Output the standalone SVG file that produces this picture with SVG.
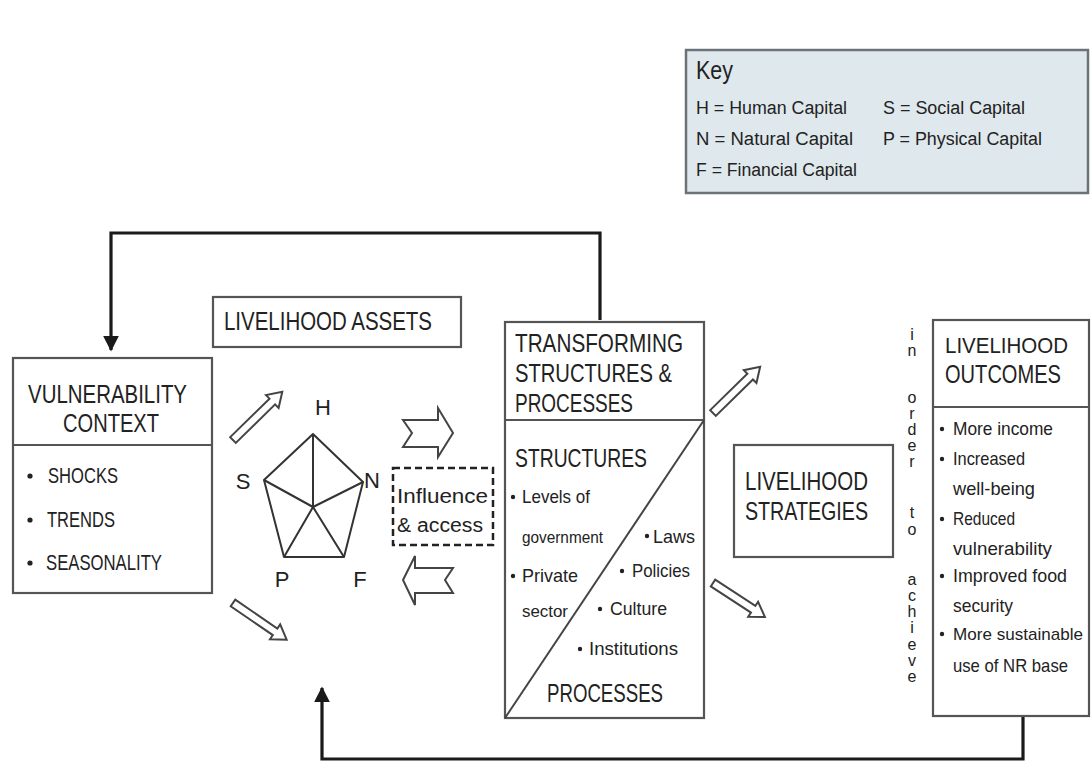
<svg xmlns="http://www.w3.org/2000/svg" width="1091" height="762" viewBox="0 0 1091 762">
<style>
text{font-family:"Liberation Sans","DejaVu Sans Condensed",Arial,sans-serif;fill:#222}
.box{fill:#fff;stroke:#555;stroke-width:2.2}
.t{font-size:25px}
.b{font-size:22px}
.s{font-size:18.5px}
.k{font-size:18px}
.hol{fill:#fff;stroke:#444;stroke-width:2}
.con{fill:none;stroke:#1a1a1a;stroke-width:3.2}
.dot{fill:#222}
.v{font-size:16px;text-anchor:middle}
</style>
<defs>
<marker id="ah" viewBox="0 0 10 10" refX="9" refY="5" markerWidth="5" markerHeight="5" orient="auto" markerUnits="strokeWidth">
<path d="M0,0 L10,5 L0,10 z" fill="#1a1a1a"/>
</marker>
</defs>
<rect width="1091" height="762" fill="#fff"/>

<g id="key">
<rect x="686" y="50" width="402" height="143" fill="#dfe8ec" stroke="#6b7377" stroke-width="2.5"/>
<text x="696" y="79" style="font-size:25px" textLength="37" lengthAdjust="spacingAndGlyphs">Key</text>
<text class="k" x="696" y="114" textLength="151" lengthAdjust="spacingAndGlyphs">H = Human Capital</text>
<text class="k" x="696" y="145" textLength="157" lengthAdjust="spacingAndGlyphs">N = Natural Capital</text>
<text class="k" x="696" y="176" textLength="161" lengthAdjust="spacingAndGlyphs">F = Financial Capital</text>
<text class="k" x="883" y="114" textLength="142" lengthAdjust="spacingAndGlyphs">S = Social Capital</text>
<text class="k" x="883" y="145" textLength="159" lengthAdjust="spacingAndGlyphs">P = Physical Capital</text>
</g>

<g id="connectors">
<path class="con" d="M600,320 V233 H111 V350" marker-end="url(#ah)"/>
<path class="con" d="M1023,716 V759 H322 V688" marker-end="url(#ah)"/>
</g>

<g id="vulnerability">
<rect class="box" x="13" y="358" width="199" height="235"/>
<line x1="13" y1="445" x2="212" y2="445" stroke="#555" stroke-width="2.2"/>
<text class="t" x="28" y="403" textLength="159" lengthAdjust="spacingAndGlyphs">VULNERABILITY</text>
<text class="t" x="63" y="432" textLength="96" lengthAdjust="spacingAndGlyphs">CONTEXT</text>
<circle class="dot" cx="30" cy="476" r="2.6"/>
<circle class="dot" cx="30" cy="520" r="2.6"/>
<circle class="dot" cx="30" cy="563" r="2.6"/>
<text class="b" x="48" y="483" textLength="70" lengthAdjust="spacingAndGlyphs">SHOCKS</text>
<text class="b" x="47" y="527" textLength="68" lengthAdjust="spacingAndGlyphs">TRENDS</text>
<text class="b" x="46" y="570" textLength="116" lengthAdjust="spacingAndGlyphs">SEASONALITY</text>
</g>

<g id="assets">
<rect class="box" x="213" y="297" width="248" height="50"/>
<text class="t" x="224" y="330" textLength="208" lengthAdjust="spacingAndGlyphs">LIVELIHOOD ASSETS</text>
<g stroke="#333" stroke-width="2" fill="none" stroke-linejoin="round">
<polygon points="313,434 363,482 344,557 284,557 264,480"/>
<path d="M313,507 L313,434 M313,507 L363,482 M313,507 L344,557 M313,507 L284,557 M313,507 L264,480"/>
</g>
<text class="b" x="323" y="415" text-anchor="middle">H</text>
<text class="b" x="243" y="489" text-anchor="middle">S</text>
<text class="b" x="372" y="488" text-anchor="middle">N</text>
<text class="b" x="282" y="587" text-anchor="middle">P</text>
<text class="b" x="360" y="587" text-anchor="middle">F</text>
</g>

<g id="influence">
<rect x="393" y="468" width="100" height="77" fill="none" stroke="#222" stroke-width="2.5" stroke-dasharray="7,4"/>
<text style="font-size:20px" x="397" y="503" textLength="91" lengthAdjust="spacingAndGlyphs">Influence</text>
<text style="font-size:20px" x="397" y="532" textLength="86" lengthAdjust="spacingAndGlyphs">&amp; access</text>
</g>

<g id="hollow-arrows">
<polygon class="hol" points="403,420 438,420 438,408 453,433 438,457 438,447 403,447 412,433"/>
<polygon class="hol" points="453,568 415,568 415,556 403,580 415,605 415,593 453,593 445,580"/>
<polygon class="hol" transform="translate(233,440) rotate(-44.4)" points="0,-4 55,-4 55,-9 69,0 55,9 55,4 0,4"/>
<polygon class="hol" transform="translate(233,603) rotate(34.4)" points="0,-4 51,-4 51,-9 65,0 51,9 51,4 0,4"/>
<polygon class="hol" transform="translate(713,413) rotate(-44.4)" points="0,-4 52,-4 52,-9 66,0 52,9 52,4 0,4"/>
<polygon class="hol" transform="translate(713,583) rotate(33.2)" points="0,-4 48,-4 48,-9 62,0 48,9 48,4 0,4"/>
</g>

<g id="transforming">
<rect class="box" x="505" y="322" width="199" height="396"/>
<line x1="505" y1="420" x2="704" y2="420" stroke="#555" stroke-width="2.2"/>
<line x1="704" y1="420" x2="505" y2="718" stroke="#444" stroke-width="2"/>
<text class="t" x="515" y="352" textLength="168" lengthAdjust="spacingAndGlyphs">TRANSFORMING</text>
<text class="t" x="515" y="382" textLength="157" lengthAdjust="spacingAndGlyphs">STRUCTURES &amp;</text>
<text class="t" x="515" y="412" textLength="118" lengthAdjust="spacingAndGlyphs">PROCESSES</text>
<text class="t" x="515" y="467" textLength="132" lengthAdjust="spacingAndGlyphs">STRUCTURES</text>
<circle class="dot" cx="513" cy="497" r="2.2"/>
<circle class="dot" cx="513" cy="576" r="2.2"/>
<circle class="dot" cx="647" cy="536" r="2.2"/>
<circle class="dot" cx="622" cy="571" r="2.2"/>
<circle class="dot" cx="600" cy="609" r="2.2"/>
<circle class="dot" cx="580" cy="649" r="2.2"/>
<text class="s" x="522" y="503" textLength="68" lengthAdjust="spacingAndGlyphs">Levels of</text>
<text class="s" x="522" y="543" textLength="81" lengthAdjust="spacingAndGlyphs" style="font-size:16px">government</text>
<text class="s" x="522" y="582" textLength="56" lengthAdjust="spacingAndGlyphs">Private</text>
<text class="s" x="522" y="617" textLength="46" lengthAdjust="spacingAndGlyphs" style="font-size:16px">sector</text>
<text class="s" x="653" y="543" textLength="42" lengthAdjust="spacingAndGlyphs">Laws</text>
<text class="s" x="632" y="577" textLength="58" lengthAdjust="spacingAndGlyphs">Policies</text>
<text class="s" x="610" y="615" textLength="57" lengthAdjust="spacingAndGlyphs">Culture</text>
<text class="s" x="589" y="655" textLength="89" lengthAdjust="spacingAndGlyphs">Institutions</text>
<text class="t" x="547" y="702" textLength="116" lengthAdjust="spacingAndGlyphs">PROCESSES</text>
</g>

<g id="strategies">
<rect class="box" x="734" y="445" width="159" height="112"/>
<text class="t" x="745" y="490" textLength="123" lengthAdjust="spacingAndGlyphs">LIVELIHOOD</text>
<text class="t" x="745" y="520" textLength="123" lengthAdjust="spacingAndGlyphs">STRATEGIES</text>
</g>

<g id="in-order-to-achieve">
<text class="v" x="912" y="340">i</text>
<text class="v" x="912" y="356">n</text>
<text class="v" x="912" y="403">o</text>
<text class="v" x="912" y="419">r</text>
<text class="v" x="912" y="435">d</text>
<text class="v" x="912" y="451">e</text>
<text class="v" x="912" y="467">r</text>
<text class="v" x="912" y="518">t</text>
<text class="v" x="912" y="535">o</text>
<text class="v" x="912" y="585">a</text>
<text class="v" x="912" y="601">c</text>
<text class="v" x="912" y="617">h</text>
<text class="v" x="912" y="633">i</text>
<text class="v" x="912" y="650">e</text>
<text class="v" x="912" y="666">v</text>
<text class="v" x="912" y="682">e</text>
</g>

<g id="outcomes">
<rect class="box" x="933" y="320" width="156" height="396"/>
<line x1="933" y1="407" x2="1089" y2="407" stroke="#555" stroke-width="2.2"/>
<text class="t" x="945" y="353" style="font-size:22.5px" textLength="123" lengthAdjust="spacingAndGlyphs">LIVELIHOOD</text>
<text class="t" x="945" y="383" textLength="116" lengthAdjust="spacingAndGlyphs">OUTCOMES</text>
<circle class="dot" cx="942" cy="429" r="2.2"/>
<circle class="dot" cx="942" cy="459" r="2.2"/>
<circle class="dot" cx="942" cy="519" r="2.2"/>
<circle class="dot" cx="942" cy="576" r="2.2"/>
<circle class="dot" cx="942" cy="634" r="2.2"/>
<text class="s" x="953" y="435" textLength="100" lengthAdjust="spacingAndGlyphs">More income</text>
<text class="s" x="953" y="465" textLength="72" lengthAdjust="spacingAndGlyphs">Increased</text>
<text class="s" x="953" y="495" textLength="82" lengthAdjust="spacingAndGlyphs">well-being</text>
<text class="s" x="953" y="525" textLength="62" lengthAdjust="spacingAndGlyphs">Reduced</text>
<text class="s" x="953" y="555" textLength="99" lengthAdjust="spacingAndGlyphs">vulnerability</text>
<text class="s" x="953" y="582" textLength="114" lengthAdjust="spacingAndGlyphs">Improved food</text>
<text class="s" x="953" y="612" textLength="60" lengthAdjust="spacingAndGlyphs">security</text>
<text class="s" x="953" y="640" style="font-size:17px" textLength="130" lengthAdjust="spacingAndGlyphs">More sustainable</text>
<text class="s" x="953" y="672" textLength="115" lengthAdjust="spacingAndGlyphs">use of NR base</text>
</g>
</svg>
